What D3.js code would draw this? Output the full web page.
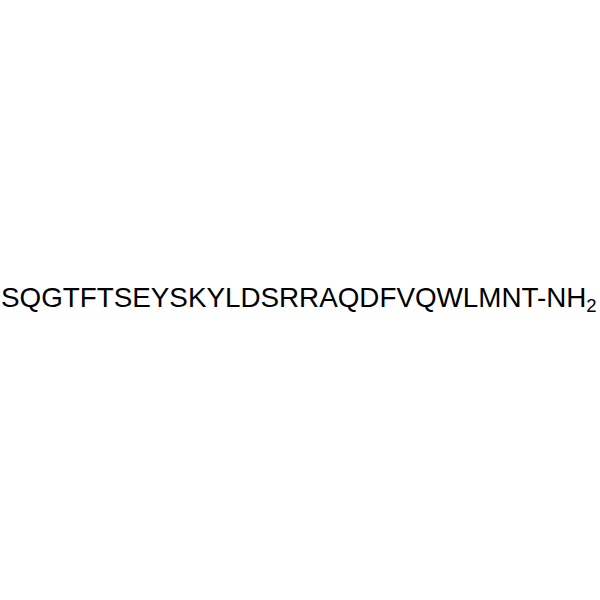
<!DOCTYPE html>
<html>
<head>
<meta charset="utf-8">
<script src="https://cdn.jsdelivr.net/npm/d3@7"></script>
<style>
  html, body { margin: 0; padding: 0; background: #fff; }
</style>
</head>
<body>
<div id="chart"></div>
<script>
// peptide sequence, one letter per residue
var residues = ["S","Q","G","T","F","T","S","E","Y","S","K","Y","L","D","S","R","R","A","Q","D","F","V","Q","W","L","M","N","T"];
var cTerminus = ["-NH", "2"];

var w = 600, h = 600;
var svg = d3.select("#chart").append("svg")
    .attr("width", w)
    .attr("height", h);

var label = svg.append("text")
    .attr("x", 1)
    .attr("y", 307)
    .style("font-family", "Arial, 'Liberation Sans', sans-serif")
    .style("font-size", "27.8px")
    .style("fill", "#000");

label.append("tspan").text(residues.join("") + cTerminus[0]);
label.append("tspan")
    .attr("dy", 5)
    .style("font-size", "18.5px")
    .text(cTerminus[1]);
</script>
</body>
</html>
